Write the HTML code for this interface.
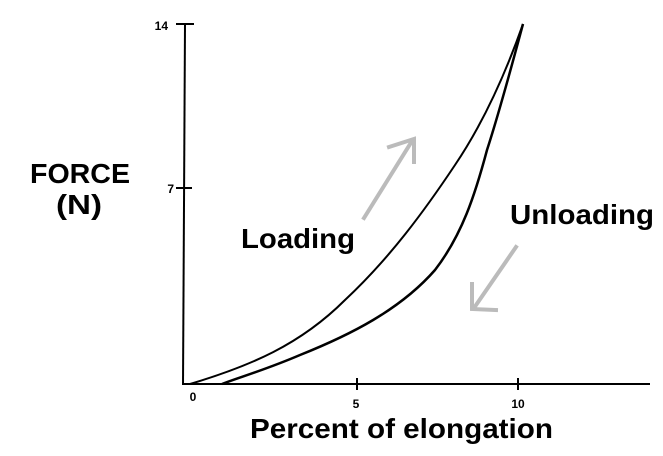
<!DOCTYPE html>
<html><head><style>
body{margin:0;background:#fff;width:663px;height:456px;overflow:hidden}
svg{display:block}
text{font-family:"Liberation Sans",Arial,sans-serif;font-weight:bold;fill:#000}
</style></head><body>
<svg width="663" height="456" viewBox="0 0 663 456">
<g stroke="#000" stroke-width="2" fill="none">
<line x1="185" y1="24" x2="183" y2="385"/>
<line x1="183" y1="384" x2="650" y2="384"/>
<line x1="176" y1="24" x2="194" y2="24"/>
<line x1="176" y1="188" x2="192" y2="188"/>
<line x1="357" y1="378" x2="357" y2="390"/>
<line x1="518" y1="378" x2="518" y2="390"/>
<path d="M190,384 C250,366 300,345 345,300 C390,258 425,210 455,165 C482,125 505,75 523,24"/>
<path d="M523,24 C512,65 500,110 487,150 C475,195 462,235 435,270 C400,310 350,335 300,355 C265,370 240,377 222,384" stroke-width="2.5"/>
</g>
<g stroke="#bbb" stroke-width="4" fill="none" stroke-linecap="square">
<line x1="364" y1="218" x2="412" y2="141"/>
<polyline points="389,147 414,139 414,162"/>
<line x1="516" y1="247" x2="474" y2="308"/>
<polyline points="472,284 472,309 496,310"/>
</g>
<text x="168" y="30" font-size="12" text-anchor="end">14</text>
<text x="174" y="193" font-size="12" text-anchor="end">7</text>
<text x="193" y="401" font-size="12" text-anchor="middle">0</text>
<text x="356" y="408" font-size="12" text-anchor="middle">5</text>
<text x="518" y="408" font-size="12" text-anchor="middle">10</text>
<text x="30" y="183" font-size="28" textLength="100" lengthAdjust="spacingAndGlyphs">FORCE</text>
<text x="56" y="214" font-size="28" textLength="46" lengthAdjust="spacingAndGlyphs">(N)</text>
<text x="241" y="248" font-size="28" textLength="114" lengthAdjust="spacingAndGlyphs">Loading</text>
<text x="510" y="224" font-size="28" textLength="144" lengthAdjust="spacingAndGlyphs">Unloading</text>
<text x="250" y="438" font-size="28" textLength="303" lengthAdjust="spacingAndGlyphs">Percent of elongation</text>
</svg>
</body></html>
